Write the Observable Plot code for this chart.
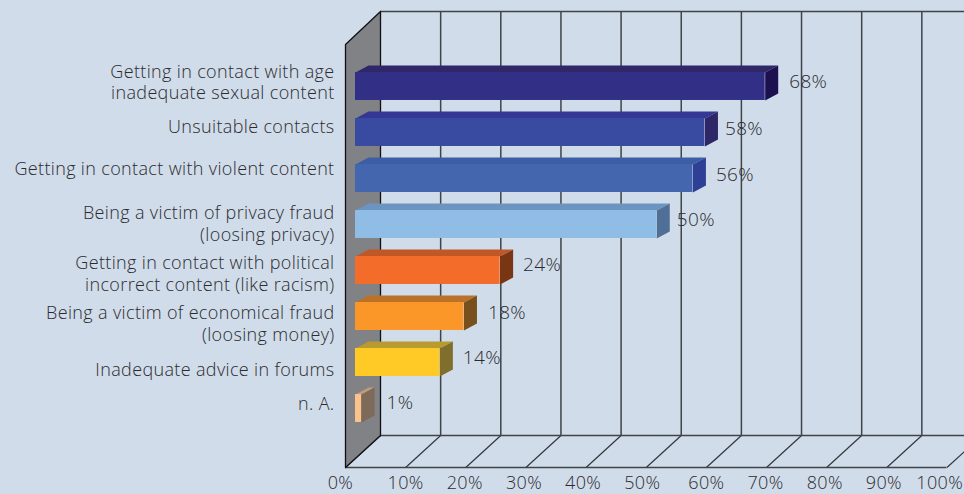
<!DOCTYPE html>
<html>
<head>
<meta charset="utf-8">
<style>
html,body{margin:0;padding:0;background:#d0dcea;}
svg{display:block;}
</style>
<script src="https://cdn.jsdelivr.net/npm/d3@7"></script>
<script src="https://cdn.jsdelivr.net/npm/@observablehq/plot@0.6"></script>
</head>
<body>
<div id="chart"></div>
<script>
const categories = [
  "Getting in contact with age\ninadequate sexual content",
  "Unsuitable contacts",
  "Getting in contact with violent content",
  "Being a victim of privacy fraud\n(loosing privacy)",
  "Getting in contact with political\nincorrect content (like racism)",
  "Being a victim of economical fraud\n(loosing money)",
  "Inadequate advice in forums",
  "n. A."
];
const values = [68, 58, 56, 50, 24, 18, 14, 1];
const tickValues = [0, 10, 20, 30, 40, 50, 60, 70, 80, 90, 100];

const frontColors = ["#322f86", "#394ba0", "#4466ae", "#8fbde6", "#f46c2a", "#fb9629", "#ffc926", "#fdc28a"];
const topColors   = ["#302768", "#343794", "#3b5ea5", "#6b95c0", "#c05726", "#bb7228", "#b89a2e", "#c29a76"];
const sideColors  = ["#1d1050", "#2f2667", "#2e3f96", "#4f6f96", "#7a3512", "#77501d", "#7f6e2c", "#7d6a58"];

// Layout of the oblique projection, in scale units (percent across, rows down).
const barHalf = 0.304, barDepthX = 2.16, barDepthY = 0.152;
const frontX0 = -1.66, backX0 = 4.15, slopeX = 0.9983;
const backTop = -1.63, wallFrontTop = -0.913, backFloor = 7.587, frontFloor = 8.283;
const labelRows = [-0.11, 0.85, 1.78, 2.96, 4.05, 5.15, 6.13, 6.87];
const valueLabelX = [0, -0.66, -0.17, -0.66, -0.17, 0, -0.17, 0.17];
const valueLabelY = [0, 0.02, 0.02, 0, -0.02, 0.04, 0, -0.02];
const tickLabelX = [-0.83, 0, -0.17, -0.33, -0.5, -0.66, 0, -0.17, -0.33, -0.5, -1.2];

const floorFront = v => frontX0 + v * slopeX;
const floorBack = v => backX0 + v * slopeX;

const polys = [];
const poly = (id, color, pts) => pts.forEach(([x, y]) => polys.push({id, color, x, y}));

poly("wall", "#808285", [
  [floorFront(0), wallFrontTop], [floorBack(0), backTop],
  [floorBack(0), backFloor], [floorFront(0), frontFloor], [floorFront(0), wallFrontTop]
]);

values.forEach((v, i) => {
  const t = i - barHalf, b = i + barHalf;
  poly("top" + i, topColors[i], [[0, t], [barDepthX, t - barDepthY], [v + barDepthX, t - barDepthY], [v, t], [0, t]]);
  poly("side" + i, sideColors[i], [[v, t], [v + barDepthX, t - barDepthY], [v + barDepthX, b - barDepthY], [v, b], [v, t]]);
});

const rows = values.map((v, i) => ({i, v, color: frontColors[i], label: v + "%"}));
const font = "'Open Sans', 'Noto Sans', sans-serif";
const gridColor = "#3f434a";

const plot = Plot.plot({
  width: 964,
  height: 494,
  margin: 0,
  style: {background: "#d0dcea", fontFamily: font, fontWeight: 300, letterSpacing: "0.35px"},
  x: {type: "linear", domain: [0, 100], range: [355, 957.5], axis: null},
  y: {type: "linear", domain: [0, 8], range: [86, 454], axis: null},
  color: {type: "identity"},
  marks: [
    Plot.ruleX(tickValues.slice(1), {x: floorBack, y1: backTop, y2: backFloor, stroke: gridColor, strokeWidth: 1.5}),
    Plot.link(tickValues, {x1: floorFront, y1: frontFloor, x2: floorBack, y2: backFloor, stroke: "#33373d", strokeWidth: 1.2}),
    Plot.ruleY([backTop], {x1: floorBack(0), x2: floorBack(110), stroke: gridColor, strokeWidth: 1.5}),
    Plot.ruleY([backFloor], {x1: floorBack(0), x2: floorBack(110), stroke: gridColor, strokeWidth: 1.5}),
    Plot.ruleY([frontFloor], {x1: floorFront(0), x2: floorFront(100), stroke: gridColor, strokeWidth: 1.5}),
    Plot.line(polys.filter(d => d.id === "wall"), {x: "x", y: "y", z: "id", fill: "color", stroke: "#111", strokeWidth: 1.3}),
    Plot.line(polys.filter(d => d.id !== "wall"), {x: "x", y: "y", z: "id", fill: "color", stroke: null}),
    Plot.rect(rows, {x1: 0, x2: "v", y1: d => d.i - barHalf, y2: d => d.i + barHalf, fill: "color"}),
    Plot.text(rows, {
      x: (d, i) => d.v + valueLabelX[i], y: (d, i) => d.i + valueLabelY[i], text: "label",
      dx: 24, dy: -5, textAnchor: "start", fontSize: 19, fill: "#2b2b2e"
    }),
    Plot.text(categories, {
      x: frontX0, y: (d, i) => labelRows[i], text: d => d, dx: -11,
      textAnchor: "end", fontSize: 18, lineHeight: 1.22, fill: "#2b2b2e"
    }),
    Plot.text(tickValues, {
      x: (d, i) => floorFront(d) + tickLabelX[i], y: frontFloor, text: d => d + "%",
      dy: 16, textAnchor: "middle", fontSize: 18, fill: "#2b2b2e"
    })
  ]
});
document.getElementById("chart").appendChild(plot);
</script>
</body>
</html>
